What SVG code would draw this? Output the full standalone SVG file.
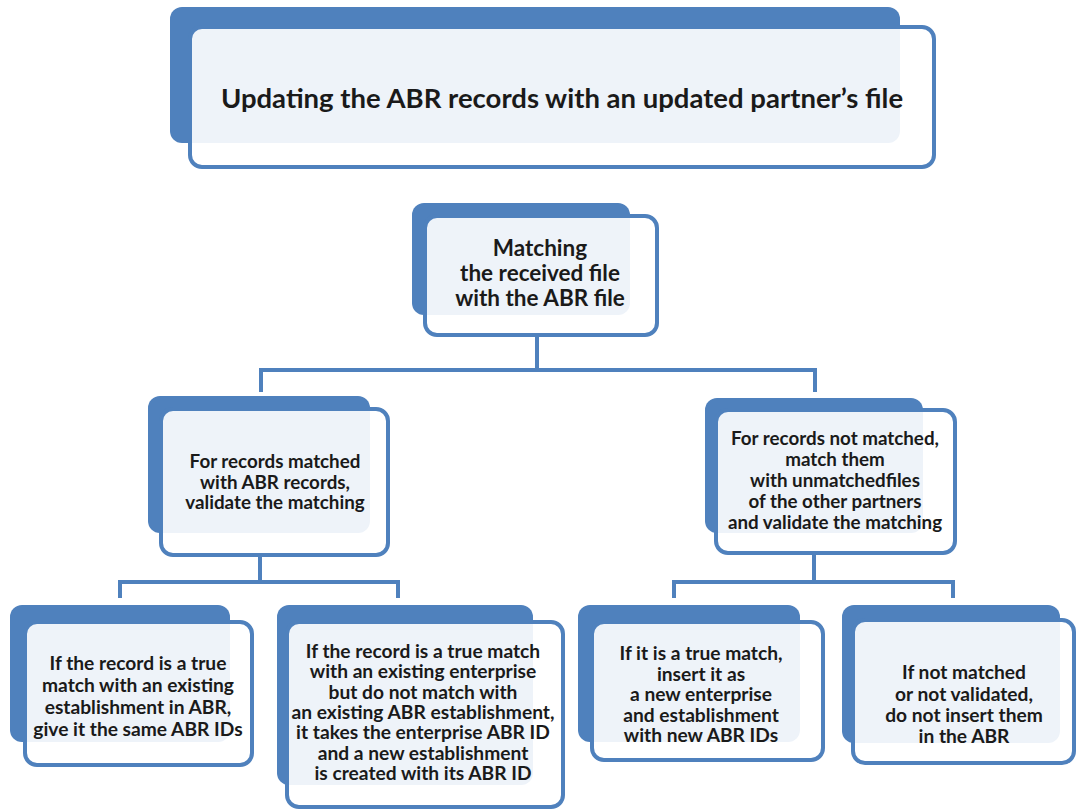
<svg xmlns="http://www.w3.org/2000/svg" width="1077" height="812" viewBox="0 0 1077 812">
  <style>
    .back { fill: #4f81bd; }
    .front { fill: #ffffff; fill-opacity: 0.9; stroke: #4f81bd; stroke-width: 4; }
    .link { fill: none; stroke: #4f81bd; stroke-width: 4; stroke-linejoin: miter; }
    text { font-family: Lato, "Liberation Sans", sans-serif; font-weight: bold; fill: #1a1a1a; text-anchor: middle; dominant-baseline: central; }
    .title { font-size: 27.5px; }
    .t1 { font-size: 22.5px; }
    .t2 { font-size: 18.8px; }
    .t3 { font-size: 19.2px; }
  </style>

  <!-- tree connectors: trunk down, bar across, short drops to each child -->
  <g id="connectors">
    <path class="link" d="M537 335 V370 M261 392 V370 H815 V392"/>
    <path class="link" d="M260 555 V582 M120 598 V582 H398 V598"/>
    <path class="link" d="M814 553 V582 M674 598 V582 H953 V598"/>
  </g>

  <g id="title">
    <rect class="back" x="170" y="7" width="730" height="136" rx="12"/>
    <rect class="front" x="190" y="27" width="744" height="140" rx="12"/>
    <text class="title" x="562" y="97">Updating the ABR records with an updated partner’s file</text>
  </g>

  <g id="matching">
    <rect class="back" x="412" y="203" width="218" height="112" rx="12"/>
    <rect class="front" x="425" y="216" width="232" height="119" rx="12"/>
    <text class="t1" x="540"><tspan x="540" y="247">Matching</tspan><tspan x="540" y="272">the received file</tspan><tspan x="540" y="297">with the ABR file</tspan></text>
  </g>

  <g id="matched">
    <rect class="back" x="148" y="396" width="222" height="137" rx="12"/>
    <rect class="front" x="161" y="409" width="227" height="146" rx="12"/>
    <text class="t2" x="275"><tspan x="275" y="460">For records matched</tspan><tspan x="275" y="480.5">with ABR records,</tspan><tspan x="275" y="501">validate the matching</tspan></text>
  </g>

  <g id="not-matched">
    <rect class="back" x="705" y="398" width="218" height="135" rx="12"/>
    <rect class="front" x="716" y="410" width="239" height="143" rx="12"/>
    <text class="t2" x="835"><tspan x="835" y="437">For records not matched,</tspan><tspan x="835" y="458">match them</tspan><tspan x="835" y="479">with unmatchedfiles</tspan><tspan x="835" y="500">of the other partners</tspan><tspan x="835" y="521">and validate the matching</tspan></text>
  </g>

  <g id="same-ids">
    <rect class="back" x="10" y="605" width="220" height="137" rx="12"/>
    <rect class="front" x="25" y="622" width="227" height="143" rx="12"/>
    <text class="t3" x="138"><tspan x="138" y="662">If the record is a true</tspan><tspan x="138" y="684">match with an existing</tspan><tspan x="138" y="706">establishment in ABR,</tspan><tspan x="138" y="728">give it the same ABR IDs</tspan></text>
  </g>

  <g id="new-establishment">
    <rect class="back" x="277" y="605" width="256" height="180" rx="12"/>
    <rect class="front" x="287" y="622" width="276" height="185" rx="12"/>
    <text class="t3" x="423"><tspan x="423" y="650">If the record is a true match</tspan><tspan x="423" y="670.3">with an existing enterprise</tspan><tspan x="423" y="690.6">but do not match with</tspan><tspan x="423" y="711">an existing ABR establishment,</tspan><tspan x="423" y="731.3">it takes the enterprise ABR ID</tspan><tspan x="423" y="751.6">and a new establishment</tspan><tspan x="423" y="772">is created with its ABR ID</tspan></text>
  </g>

  <g id="new-enterprise">
    <rect class="back" x="578" y="605" width="222" height="137" rx="12"/>
    <rect class="front" x="592" y="622" width="231" height="138" rx="12"/>
    <text class="t3" x="701"><tspan x="701" y="652">If  it is a  true match,</tspan><tspan x="701" y="672.5">insert it as</tspan><tspan x="701" y="693">a new enterprise</tspan><tspan x="701" y="713.5">and establishment</tspan><tspan x="701" y="734">with new ABR IDs</tspan></text>
  </g>

  <g id="not-inserted">
    <rect class="back" x="842" y="605" width="218" height="138" rx="12"/>
    <rect class="front" x="853" y="620" width="221" height="143" rx="12"/>
    <text class="t3" x="964"><tspan x="964" y="671">If not matched</tspan><tspan x="964" y="692.5">or not validated,</tspan><tspan x="964" y="714">do not insert them</tspan><tspan x="964" y="735">in the ABR</tspan></text>
  </g>
</svg>
